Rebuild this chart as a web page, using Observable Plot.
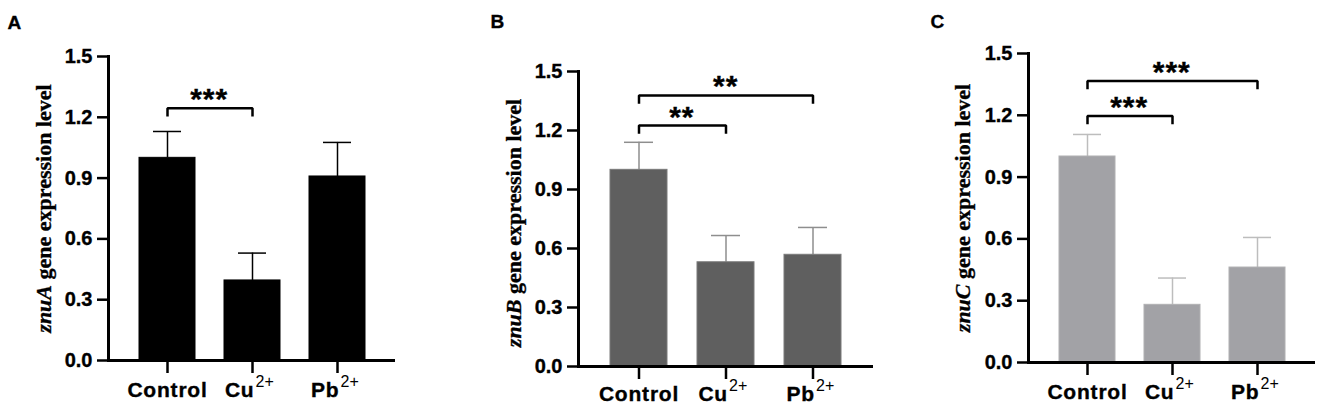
<!DOCTYPE html>
<html><head><meta charset="utf-8">
<script src="https://cdn.jsdelivr.net/npm/d3@7"></script>
<script src="https://cdn.jsdelivr.net/npm/@observablehq/plot@0.6"></script>
<style>
body{margin:0;background:#fff;}
#wrap{position:relative;width:1325px;height:416px;overflow:hidden;background:#fff;}
.panel{position:absolute;top:0;}
.panel text{stroke:currentColor;stroke-width:0.35px;}
</style></head><body><div id="wrap"></div>
<script>
// ---- data ----
const categories = ["Control", "Cu", "Pb"];
const superscripts = ["", "2+", "2+"];
const yTicks = [0, 0.3, 0.6, 0.9, 1.2, 1.5];
const panelLetters = ["A", "B", "C"];
const genes = ["znuA", "znuB", "znuC"];

const meansA = [1.0, 0.395, 0.908];
const sdA    = [0.13, 0.135, 0.168];
const meansB = [1.0, 0.53, 0.568];
const sdB    = [0.14, 0.136, 0.139];
const meansC = [1.0, 0.28, 0.461];
const sdC    = [0.107, 0.13, 0.146];

const bracketsA = [{from: "Control", to: "Cu", level: 1.245, label: "***"}];
const bracketsB = [{from: "Control", to: "Cu", level: 1.225, label: "**"},
                   {from: "Control", to: "Pb", level: 1.378, label: "**"}];
const bracketsC = [{from: "Control", to: "Cu", level: 1.197, label: "***"},
                   {from: "Control", to: "Pb", level: 1.367, label: "***"}];

// ---- layout / style ----
const H = 416, PI = 0.345, PO = 0.355;
const panels = [
  {letter: panelLetters[0], gene: genes[0], means: meansA, sds: sdA, brackets: bracketsA,
   left: 0, width: 440, ml: 108, mr: 45, mt: 56, mb: 56, fill: "#000000", err: "#000000", edge: "#000000",
   labelDy: 36, titleDx: -65, titleDy: 0, letterX: 7, letterY: 15},
  {letter: panelLetters[1], gene: genes[1], means: meansB, sds: sdB, brackets: bracketsB,
   left: 440, width: 440, ml: 138, mr: 7, mt: 71, mb: 50, fill: "#5f5f5f", err: "#8e8e8e", edge: "#7a7a7a",
   labelDy: 34, titleDx: -65, titleDy: 4, letterX: 50, letterY: 14},
  {letter: panelLetters[2], gene: genes[2], means: meansC, sds: sdC, brackets: bracketsC,
   left: 880, width: 445, ml: 148, mr: 10, mt: 53, mb: 54, fill: "#a2a2a6", err: "#bdbdbd", edge: "#b0b0b2",
   labelDy: 36, titleDx: -66, titleDy: 0, letterX: 50, letterY: 14}
];

function sel(svg, name) {
  return svg.selectAll(`[aria-label="${name}"]`);
}

function makePanel(cfg) {
  const rows = categories.map((c, i) => ({cat: c, sup: superscripts[i], mean: cfg.means[i], sd: cfg.sds[i]}));
  const step = (cfg.width - cfg.ml - cfg.mr) / (categories.length - PI + 2 * PO);
  const pxPerUnit = (H - cfg.mt - cfg.mb) / 1.5;
  const tickLen = 7 / pxPerUnit;
  const bracketPts = cfg.brackets.flatMap((b, k) => [
    {k, x: b.from, y: b.level - tickLen}, {k, x: b.from, y: b.level},
    {k, x: b.to, y: b.level}, {k, x: b.to, y: b.level - tickLen}]);
  const starMarks = cfg.brackets.map(b => Plot.text([b], {
    x: "from", y: "level", text: "label",
    dx: step * (categories.indexOf(b.to) - categories.indexOf(b.from)) / 2 - 1,
    dy: 1, lineAnchor: "bottom", fontSize: 30, fontWeight: "bold", ariaLabel: () => "stars"}));

  const plot = Plot.plot({
    width: cfg.width, height: H,
    marginLeft: cfg.ml, marginRight: cfg.mr, marginTop: cfg.mt, marginBottom: cfg.mb,
    style: {fontFamily: "'Liberation Sans', Arial, sans-serif", background: "white", color: "black", overflow: "visible"},
    x: {type: "band", domain: categories, paddingInner: PI, paddingOuter: PO},
    y: {domain: [0, 1.5]},
    marks: [
      Plot.ruleX(rows, {x: "cat", y1: "mean", y2: d => d.mean + d.sd, stroke: cfg.err, strokeWidth: 1.5}),
      Plot.tickY(rows, {x: "cat", y: d => d.mean + d.sd, stroke: cfg.err, strokeWidth: 1.5, insetLeft: 14, insetRight: 14}),
      Plot.barY(rows, {x: "cat", y: "mean", fill: cfg.fill, stroke: cfg.edge, strokeWidth: 1}),
      Plot.axisY({ticks: yTicks, tickSize: 11, tickPadding: 5, tickFormat: d3.format(".1f"),
        fontSize: 20, fontWeight: "bold", strokeWidth: 2.5, label: null}),
      Plot.axisX({tickSize: 13, strokeWidth: 2.5, tickFormat: () => "", label: null}),
      Plot.frame({anchor: "left", strokeWidth: 3}),
      Plot.ruleY([0], {strokeWidth: 3}),
      Plot.line(bracketPts, {x: "x", y: "y", z: "k", stroke: "black", strokeWidth: 2.5, strokeLinejoin: "miter", strokeLinecap: "square"}),
      ...starMarks,
      Plot.text(rows, {filter: d => d.sup === "", x: "cat", y: () => 0, text: "cat", dy: cfg.labelDy,
        lineAnchor: "bottom", textAnchor: "middle", fontSize: 21, fontWeight: "bold", ariaLabel: () => "xlabel"}),
      Plot.text(rows, {filter: d => d.sup !== "", x: "cat", y: () => 0, text: "cat", dx: 2, dy: cfg.labelDy,
        lineAnchor: "bottom", textAnchor: "end", fontSize: 21, fontWeight: "bold", ariaLabel: () => "xlabel"}),
      Plot.text(rows, {filter: d => d.sup !== "", x: "cat", y: () => 0, text: "sup", dx: 3, dy: cfg.labelDy - 10,
        lineAnchor: "bottom", textAnchor: "start", fontSize: 16, fontWeight: "normal", ariaLabel: () => "sup"}),
      Plot.text([cfg.gene], {frameAnchor: "left", text: d => d + " gene expression level", rotate: -90,
        dx: cfg.titleDx, dy: cfg.titleDy, textAnchor: "middle", lineAnchor: "middle",
        fontFamily: "'Liberation Serif', 'Times New Roman', serif", fontSize: 22, fontWeight: "bold", ariaLabel: () => "ytitle"}),
      Plot.text([cfg.letter], {frameAnchor: "top-left", text: d => d, dx: cfg.letterX - cfg.ml, dy: cfg.letterY - cfg.mt,
        lineAnchor: "top", textAnchor: "start", fontSize: 19, fontWeight: "bold"})
    ]
  });
  const svg = d3.select(plot);
  sel(svg, "xlabel").attr("letter-spacing", "0.8px");
  sel(svg, "stars").attr("letter-spacing", "1px");
  sel(svg, "sup").style("stroke-width", "0px");
  // italic gene name within the y title
  sel(svg, "ytitle").each(function() {
    const t = d3.select(this);
    t.text(null);
    t.append("tspan").attr("font-style", "italic").text(cfg.gene);
    t.append("tspan").text(" gene expression level");
  });
  plot.classList.add("panel");
  plot.style.left = cfg.left + "px";
  return plot;
}

const wrap = document.getElementById("wrap");
panels.forEach(cfg => wrap.appendChild(makePanel(cfg)));
</script></body></html>
